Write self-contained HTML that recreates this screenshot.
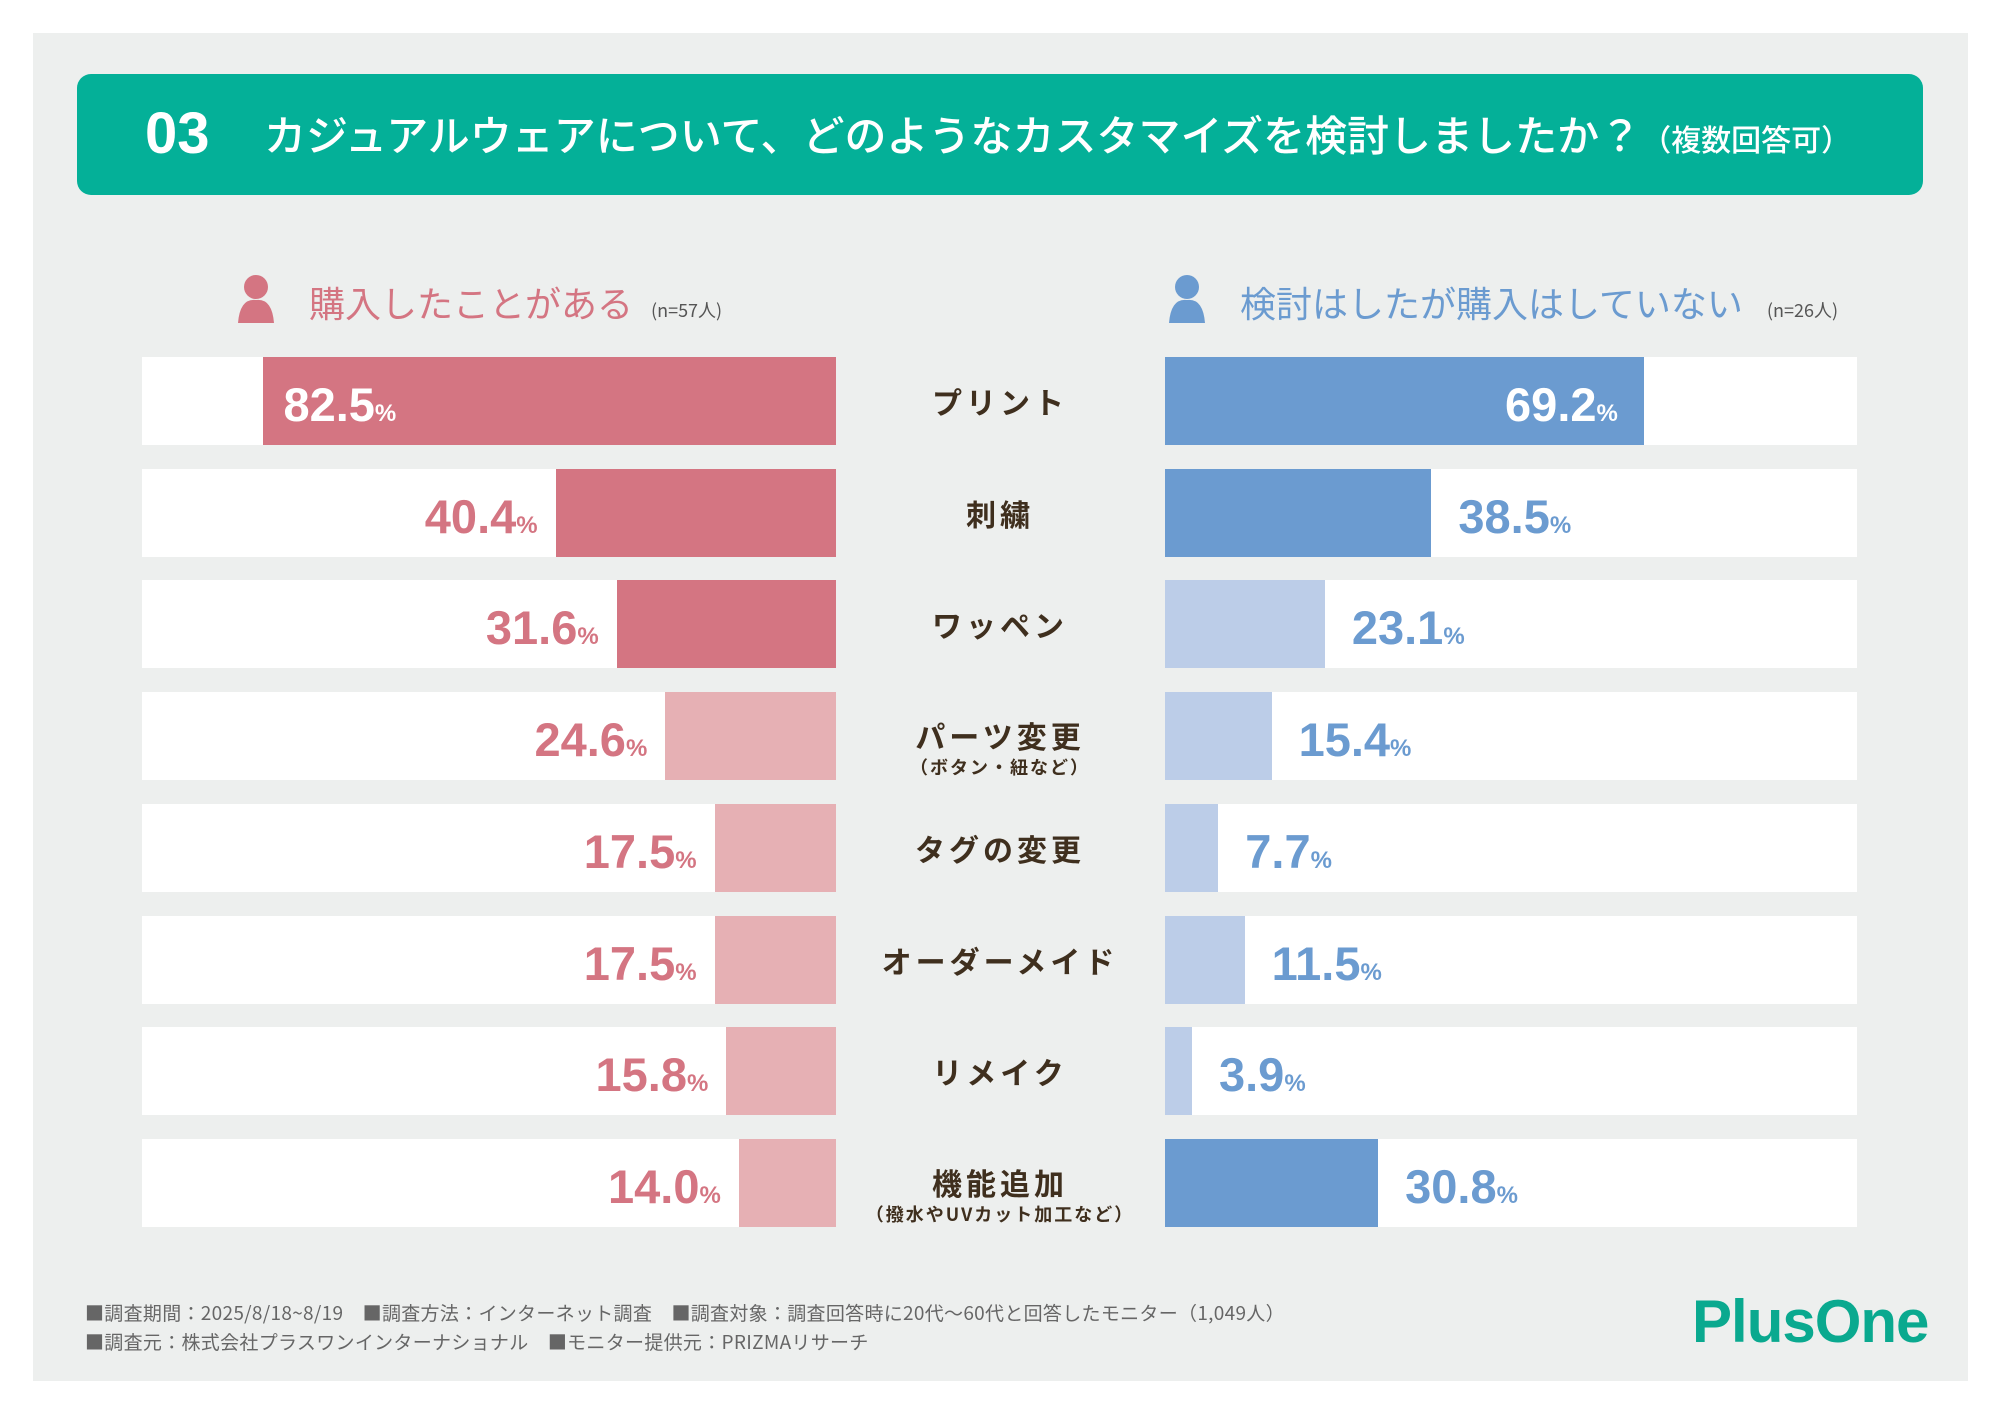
<!DOCTYPE html>
<html><head><meta charset="utf-8"><style>
body{margin:0;width:2000px;height:1415px;background:#fff;position:relative;overflow:hidden;font-family:"Liberation Sans","Noto Sans CJK JP",sans-serif}
.abs{position:absolute}
</style></head><body>
<div class="abs" style="left:33px;top:33px;width:1935px;height:1348px;background:#edefee"></div>
<div class="abs" style="left:77px;top:74px;width:1846px;height:121px;background:#04b098;border-radius:14px"></div>
<div class="abs" style="left:145px;top:102px;color:#fff;font-weight:bold;font-size:58px;line-height:64px">03</div>
<div class="abs" style="left:264px;top:107px;color:#fff;font-size:42px;line-height:54px;white-space:nowrap;font-family:'Noto Sans CJK JP',sans-serif;font-weight:500">カジュアルウェアについて、どのようなカスタマイズを検討しましたか？<span style="font-size:30px">（複数回答可）</span></div>

<svg class="abs" style="left:236px;top:274px" width="40" height="50"><circle cx="20" cy="13" r="12" fill="#d47582"/><path d="M2 49 Q4 24 20 26 Q36 24 38 49 Z" fill="#d47582"/></svg>
<div class="abs" style="left:309px;top:280px;color:#d47582;font-size:36px;line-height:44px;white-space:nowrap;font-family:'Noto Sans CJK JP',sans-serif">購入したことがある<span style="font-size:18px;color:#555;margin-left:18px">(n=57人)</span></div>
<svg class="abs" style="left:1167px;top:274px" width="40" height="50"><circle cx="20" cy="13" r="12" fill="#6b9bd0"/><path d="M2 49 Q4 24 20 26 Q36 24 38 49 Z" fill="#6b9bd0"/></svg>
<div class="abs" style="left:1240px;top:280px;color:#6b9bd0;font-size:36px;line-height:44px;white-space:nowrap;font-family:'Noto Sans CJK JP',sans-serif">検討はしたが購入はしていない<span style="font-size:18px;color:#555;margin-left:24px">(n=26人)</span></div>

<div id="chart"></div>

<div class="abs" style="left:85px;top:1298px;color:#666;font-size:19px;letter-spacing:0.3px;line-height:29px;white-space:nowrap;font-family:'Noto Sans CJK JP',sans-serif">■調査期間：2025/8/18~8/19　■調査方法：インターネット調査　■調査対象：調査回答時に20代～60代と回答したモニター（1,049人）<br>■調査元：株式会社プラスワンインターナショナル　■モニター提供元：PRIZMAリサーチ</div>
<div class="abs" style="left:1692px;top:1290px;color:#0aa98f;font-size:60px;font-weight:bold;line-height:64px;letter-spacing:-1px">PlusOne</div>

<script>
const categories=["プリント","刺繍","ワッペン","パーツ変更","タグの変更","オーダーメイド","リメイク","機能追加"];
const subLabels=["","","","（ボタン・紐など）","","","","（撥水やUVカット加工など）"];
const purchasedValues=[82.5,40.4,31.6,24.6,17.5,17.5,15.8,14.0];
const consideredValues=[69.2,38.5,23.1,15.4,7.7,11.5,3.9,30.8];
const chart=document.getElementById('chart');
const rowTop=i=>357+i*111.7, rowH=88;
const lx0=142,lx1=836,rx0=1165,rx1=1857;
const scaleL=v=>(lx1-lx0)*v/100, scaleR=v=>(rx1-rx0)*v/100;
const top3=a=>[...a].sort((x,y)=>y-x)[2];
const lT=top3(purchasedValues), rT=top3(consideredValues);
function div(css,html){const d=document.createElement('div');d.className='abs';d.style.cssText=css;if(html!==undefined)d.innerHTML=html;chart.appendChild(d);return d;}
categories.forEach((c,i)=>{
  const y=rowTop(i);
  let t=div(`left:${lx0}px;top:${y}px;width:${lx1-lx0}px;height:${rowH}px;background:#fff`);
  
  
  const lv=purchasedValues[i],lw=scaleL(lv),ldark=lv>=lT;
  let b=div(`left:${lx1-lw}px;top:${y}px;width:${lw}px;height:${rowH}px;background:${ldark?'#d47582':'#e6b0b4'}`);
  
  
  const lt=`${lv.toFixed(1)}<span style="font-size:24px">%</span>`;
  let l;
  if(lw>300) l=div(`left:${lx1-lw+20}px;top:${y+4}px;color:#fff;font-weight:bold;font-size:47px;line-height:${rowH}px;white-space:nowrap`,lt);
  else l=div(`right:${2000-(lx1-lw)+18}px;top:${y+4}px;color:#d47582;font-weight:bold;font-size:47px;line-height:${rowH}px;white-space:nowrap`,lt);
  
  

  t=div(`left:${rx0}px;top:${y}px;width:${rx1-rx0}px;height:${rowH}px;background:#fff`);
  
  
  const rv=consideredValues[i],rw=scaleR(rv),rdark=rv>=rT;
  b=div(`left:${rx0}px;top:${y}px;width:${rw}px;height:${rowH}px;background:${rdark?'#6b9bd0':'#bccde8'}`);
  
  
  const rt=`${rv.toFixed(1)}<span style="font-size:24px">%</span>`;
  if(rw>300) l=div(`right:${2000-(rx0+rw)+26}px;top:${y+4}px;color:#fff;font-weight:bold;font-size:47px;line-height:${rowH}px;white-space:nowrap`,rt);
  else l=div(`left:${rx0+rw+27}px;top:${y+4}px;color:#6b9bd0;font-weight:bold;font-size:47px;line-height:${rowH}px;white-space:nowrap`,rt);
  
  

  const hasSub=subLabels[i]!=='';
  const cl=div(`left:850px;width:300px;top:${y+(hasSub?25:26)}px;text-align:center;color:#3f2f1e;font-size:30px;font-weight:bold;letter-spacing:4px;line-height:36px;font-family:'Noto Sans CJK JP',sans-serif`,c);
  
  
  if(hasSub){
    const s=div(`left:830px;width:340px;top:${y+63}px;text-align:center;color:#3f2f1e;font-size:18px;font-weight:bold;letter-spacing:2px;line-height:24px;font-family:'Noto Sans CJK JP',sans-serif`,subLabels[i]);
    
    
  }
});
</script>
</body></html>
